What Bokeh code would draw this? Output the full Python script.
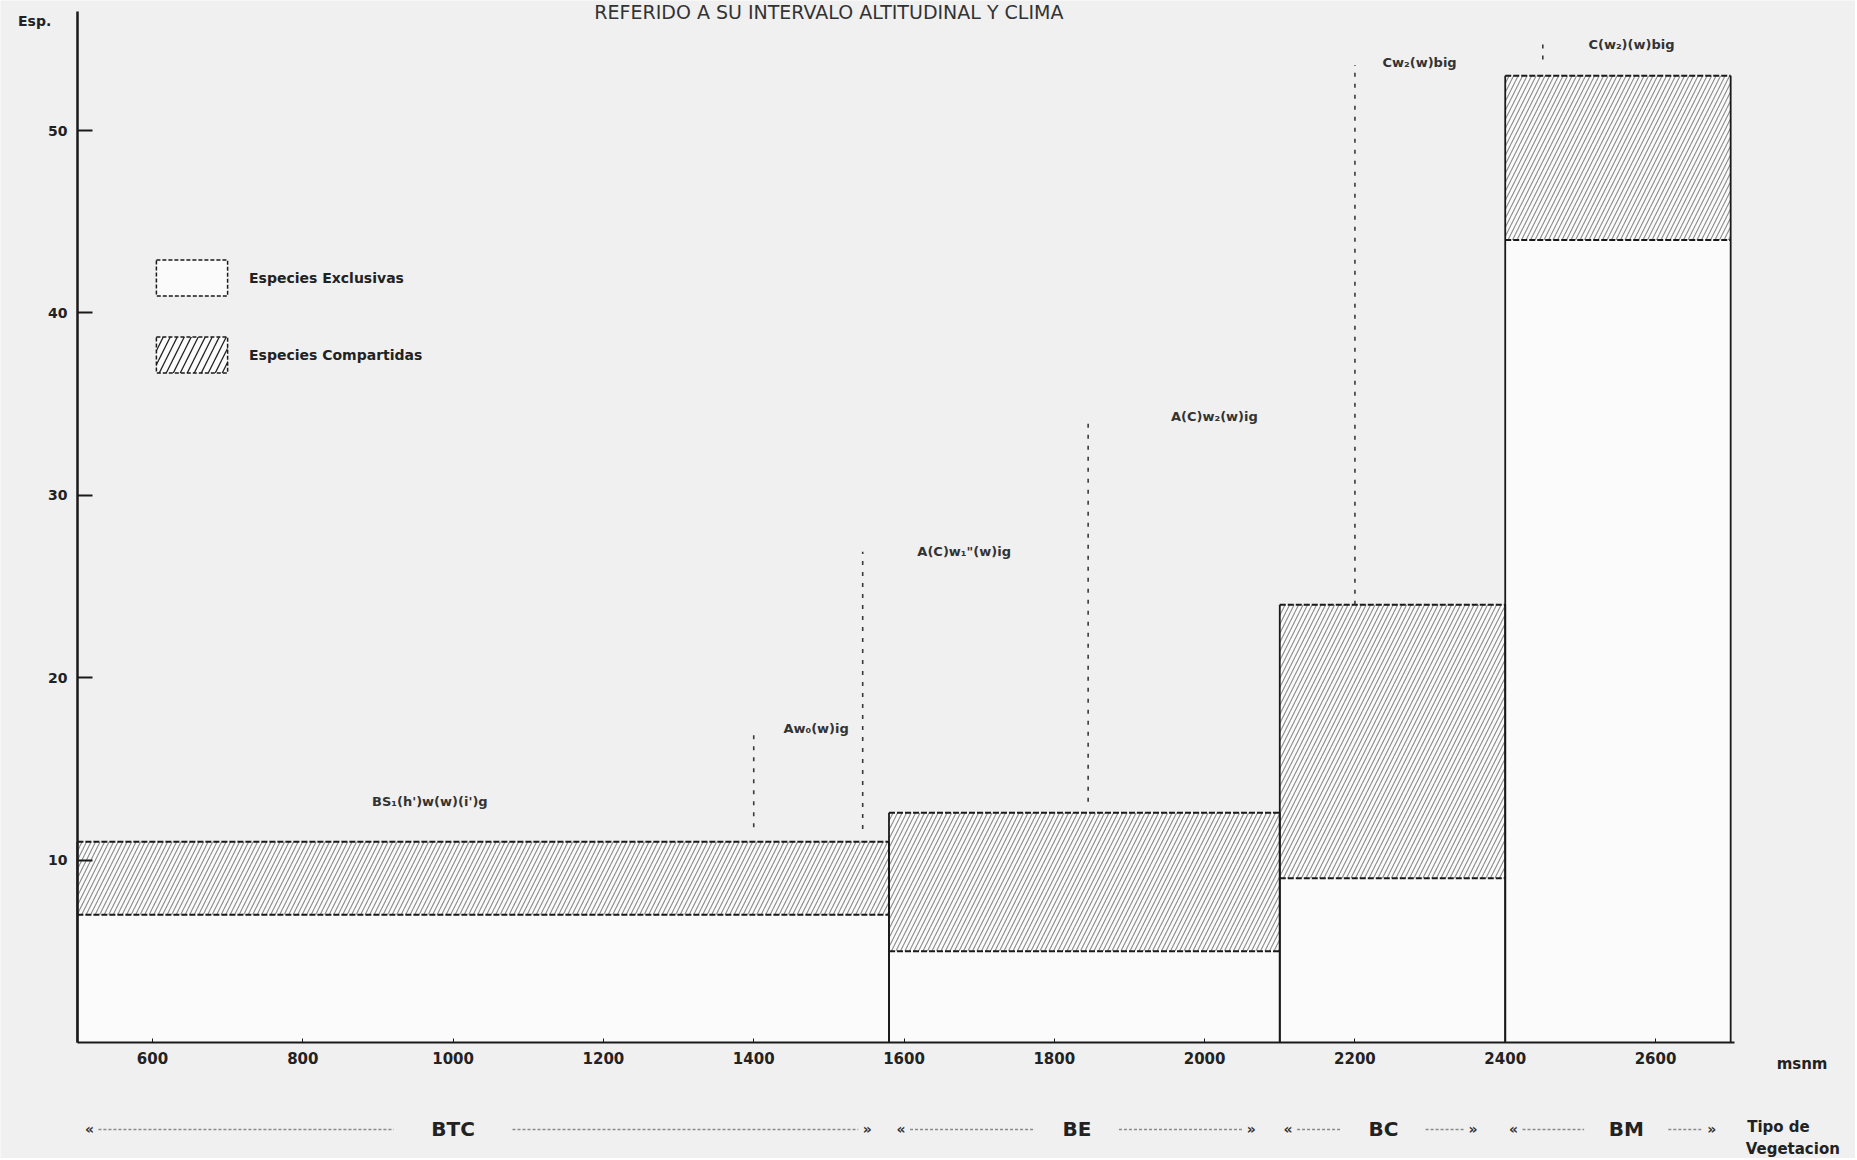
from bokeh.plotting import figure
from bokeh.models import (LinearAxis, FixedTicker, ColumnDataSource, Legend,
                          LegendItem, Range1d)
from bokeh.embed import file_html
from bokeh.resources import INLINE
from bokeh.core.properties import value

# ---------------- data ----------------
title_text = "REFERIDO A SU INTERVALO ALTITUDINAL Y CLIMA"
veg_types = ["BTC", "BE", "BC", "BM"]
alt_start = [500, 1580, 2100, 2400]
alt_end = [1580, 2100, 2400, 2700]
exclusivas = [7, 5, 9, 44]          # top of the exclusive-species part
total = [11, 12.6, 24, 53]           # exclusive + shared species

climates = ["BS\u2081(h')w(w)(i')g", "Aw\u2080(w)ig", 'A(C)w\u2081"(w)ig',
            "A(C)w\u2082(w)ig", "Cw\u2082(w)big", "C(w\u2082)(w)big"]
climate_x = [969, 1483, 1680, 2013, 2286, 2568]
climate_y = [13.2, 17.2, 26.9, 34.3, 53.75, 54.7]

limit_x = [1400, 1545, 1845, 2200, 2450]
limit_base = [11.8, 11.7, 13.2, 24.0, 53.9]
limit_top = [16.9, 26.9, 34.3, 53.6, 54.8]

x_ticks = [600, 800, 1000, 1200, 1400, 1600, 1800, 2000, 2200, 2400, 2600]
y_ticks = [10, 20, 30, 40, 50]

veg_start = [510, 1590, 2105, 2405]
veg_end = [1557, 2068, 2363, 2681]
veg_center = [1000, 1830, 2238, 2561]

# ---------------- style ----------------
BG = "#f0f0f0"
BAR = "#fbfbfb"
INK = "#1a1a1a"
FONT = "DejaVu Sans"
W, H = 1855, 1158

p = figure(width=W, height=H,
           x_range=Range1d(397.7, 2866.1), y_range=Range1d(-6.36, 57.13),
           x_axis_type=None, y_axis_type=None,
           toolbar_location=None, output_backend="svg",
           background_fill_color=BG, border_fill_color=BG,
           outline_line_color=None, min_border=0)

src = ColumnDataSource(dict(left=alt_start, right=alt_end, excl=exclusivas,
                            total=total, zero=[0] * len(alt_start)))

# bars: white body, hatched shared part
p.quad(left="left", right="right", bottom="zero", top="total", source=src,
       fill_color=BAR, line_color=None)
p.quad(left="left", right="right", bottom="excl", top="total", source=src,
       fill_alpha=0, line_color=None, hatch_pattern="/", hatch_color="#6e6e6e",
       hatch_scale=9, hatch_weight=1.1, hatch_alpha=0.8)
# dashed horizontal borders
p.segment(x0="left", x1="right", y0="total", y1="total", source=src,
          line_color=INK, line_width=2, line_dash="6 2")
p.segment(x0="left", x1="right", y0="excl", y1="excl", source=src,
          line_color=INK, line_width=2, line_dash="6 2")
# solid vertical sides
p.segment(x0="left", x1="left", y0="zero", y1="total", source=src,
          line_color=INK, line_width=1.8)
p.segment(x0="right", x1="right", y0="zero", y1="total", source=src,
          line_color=INK, line_width=1.8)

# climate limits and labels
p.segment(x0=limit_x, x1=limit_x, y0=limit_base, y1=limit_top,
          line_color="#3a3a3a", line_width=1.6, line_dash="4 7")
p.text(x=climate_x, y=climate_y, text=climates, text_font=value(FONT),
       text_font_style="bold", text_font_size="13px", text_color="#333",
       text_align="center", text_baseline="middle")

# axes
xaxis = LinearAxis(fixed_location=0, ticker=FixedTicker(ticks=x_ticks),
                   bounds=(500, 2705), axis_line_width=2.2, axis_line_color=INK,
                   major_tick_in=4, major_tick_out=0, major_tick_line_color=INK,
                   minor_tick_line_color=None, major_label_standoff=10,
                   major_label_text_font=FONT, major_label_text_font_style="bold",
                   major_label_text_font_size="15px", major_label_text_color="#222")
p.add_layout(xaxis, "below")
yaxis = LinearAxis(fixed_location=500, ticker=FixedTicker(ticks=y_ticks),
                   bounds=(0, 56.5), axis_line_width=2.5, axis_line_color=INK,
                   major_tick_in=15, major_tick_out=0, major_tick_line_width=2,
                   major_tick_line_color=INK, minor_tick_line_color=None,
                   major_label_standoff=10, major_label_text_font=FONT,
                   major_label_text_font_style="bold",
                   major_label_text_font_size="14px", major_label_text_color="#222")
p.add_layout(yaxis, "left")

# legend (legend-only renderers: one invisible NaN quad each)
nan = [float("nan")]
r_ex = p.quad(left=nan, right=nan, bottom=nan, top=nan, fill_color=BAR,
              line_color=INK, line_dash="4 2", line_width=1.5)
r_sh = p.quad(left=nan, right=nan, bottom=nan, top=nan, fill_color=BAR,
              line_color=INK, line_dash="4 2", line_width=1.5,
              hatch_pattern="/", hatch_color="#222", hatch_scale=14,
              hatch_weight=1.3)
legend = Legend(items=[LegendItem(label="Especies Exclusivas", renderers=[r_ex]),
                       LegendItem(label="Especies Compartidas", renderers=[r_sh])],
                location=(147, 781), glyph_width=89, glyph_height=45,
                label_height=36, spacing=32, label_standoff=13, padding=0,
                margin=0, border_line_color=None, background_fill_alpha=0,
                label_text_font=FONT, label_text_font_style="bold",
                label_text_font_size="14px", label_text_color="#222",
                label_text_baseline="middle")
p.add_layout(legend)

# texts
p.text(x=[1500], y=[57.1], text=[title_text], text_font=value(FONT),
       text_font_size="19px", text_color="#333", text_align="center",
       text_baseline="top")
p.text(x=[421], y=[56.0], text=["Esp."], text_font=value(FONT),
       text_font_style="bold", text_font_size="14px", text_color="#222",
       text_align="left", text_baseline="middle")
p.text(x=[2795], y=[-1.18], text=["msnm"], text_font=value(FONT),
       text_font_style="bold", text_font_size="15px", text_color="#222",
       text_align="center", text_baseline="middle")
p.text(x=[2722, 2720], y=[-4.66, -5.86], text=["Tipo de", "Vegetacion"],
       text_font=value(FONT), text_font_style="bold", text_font_size="15px",
       text_color="#222", text_align="left", text_baseline="middle")

# vegetation row
vy = -4.77
vys = [vy] * len(veg_types)
gaps = [10 + 23 * len(n) for n in veg_types]
p.text(x=veg_center, y=vys, text=veg_types, text_font=value(FONT),
       text_font_style="bold", text_font_size="20px", text_color="#222",
       text_align="center", text_baseline="middle")
p.text(x=veg_start, y=vys, text=["\u00ab"] * len(veg_types), text_font=value(FONT),
       text_font_style="bold", text_font_size="14px", text_color="#333",
       text_align="left", text_baseline="middle")
p.text(x=veg_end, y=vys, text=["\u00bb"] * len(veg_types), text_font=value(FONT),
       text_font_style="bold", text_font_size="14px", text_color="#333",
       text_align="right", text_baseline="middle")
seg_x0 = [s + 18 for s in veg_start] + [c + g for c, g in zip(veg_center, gaps)]
seg_x1 = [c - g for c, g in zip(veg_center, gaps)] + [e - 18 for e in veg_end]
p.segment(x0=seg_x0, x1=seg_x1, y0=vys * 2, y1=vys * 2,
          line_color="#8a8a8a", line_width=1.5, line_dash="3 2")

open("out.html", "w").write(file_html(p, INLINE))
